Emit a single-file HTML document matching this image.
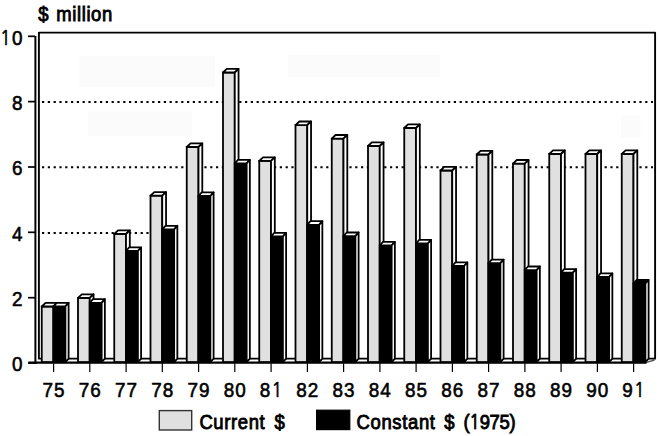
<!DOCTYPE html>
<html><head><meta charset="utf-8"><title>Chart</title>
<style>
html,body{margin:0;padding:0;background:#fff;}
body{width:659px;height:436px;overflow:hidden;}
svg{display:block;}
.t{font-family:"Liberation Sans",Arial,sans-serif;font-size:20px;fill:#000;stroke:#000;stroke-width:0.6px;}
.b{stroke-width:0.9px;}
.d{font-size:21px;letter-spacing:1.2px;}
.one{font-family:"NanumGothic","Liberation Sans",sans-serif;font-size:0.95em;}
</style></head><body>
<svg width="659" height="436" viewBox="0 0 659 436">
<rect width="659" height="436" fill="#fff"/>
<rect x="79.4" y="55.8" width="135.6" height="31.5" fill="#fbfbfb"/>
<rect x="88" y="111.6" width="104.0" height="24.3" fill="#fbfbfb"/>
<rect x="287.7" y="55" width="152.3" height="22.3" fill="#fbfbfb"/>
<rect x="621" y="115.5" width="19.5" height="22.2" fill="#fbfbfb"/>
<path d="M38.9,358.7 L38.9,32.6 L655.1,32.6 L655.1,358.7" fill="none" stroke="#000" stroke-width="1.9" stroke-linejoin="round"/>
<line x1="646.5" y1="362.4" x2="654.5" y2="360" stroke="#555" stroke-width="1.4"/>
<line x1="38.9" y1="358.7" x2="655.1" y2="358.7" stroke="#000" stroke-width="1.8" stroke-linecap="round"/>
<line x1="42" y1="102.0" x2="653" y2="102.0" stroke="#000" stroke-width="2.1" stroke-dasharray="2.2 3.6"/>
<line x1="42" y1="167.3" x2="653" y2="167.3" stroke="#000" stroke-width="2.1" stroke-dasharray="2.2 3.6"/>
<line x1="42" y1="233.0" x2="150" y2="233.0" stroke="#000" stroke-width="2.1" stroke-dasharray="2.2 3.6"/>
<rect x="250" y="164" width="9" height="7" fill="#fff"/>
<rect x="41.75" y="306.50" width="11.75" height="55.70" fill="#e0e0e0" stroke="#000" stroke-width="1.8"/>
<path d="M41.75,306.50 L45.55,302.90 L57.30,302.90 L53.50,306.50 Z" fill="#fff" stroke="#000" stroke-width="1.8" stroke-linejoin="round"/>
<path d="M53.50,306.50 L57.30,302.90 L57.30,358.70 L53.50,362.20 Z" fill="#fff" stroke="#000" stroke-width="1.8" stroke-linejoin="round"/>
<rect x="53.50" y="306.40" width="11.90" height="55.80" fill="#000" stroke="#000" stroke-width="1.8"/>
<path d="M53.50,306.40 L56.70,302.80 L68.60,302.80 L65.40,306.40 Z" fill="#fff" stroke="#000" stroke-width="1.8" stroke-linejoin="round"/>
<path d="M65.40,306.40 L68.60,302.80 L68.60,358.70 L65.40,362.20 Z" fill="#fff" stroke="#000" stroke-width="1.8" stroke-linejoin="round"/>
<rect x="78.00" y="297.90" width="11.75" height="64.30" fill="#e0e0e0" stroke="#000" stroke-width="1.8"/>
<path d="M78.00,297.90 L81.80,294.30 L93.55,294.30 L89.75,297.90 Z" fill="#fff" stroke="#000" stroke-width="1.8" stroke-linejoin="round"/>
<path d="M89.75,297.90 L93.55,294.30 L93.55,358.70 L89.75,362.20 Z" fill="#fff" stroke="#000" stroke-width="1.8" stroke-linejoin="round"/>
<rect x="89.75" y="302.80" width="11.90" height="59.40" fill="#000" stroke="#000" stroke-width="1.8"/>
<path d="M89.75,302.80 L92.95,299.20 L104.85,299.20 L101.65,302.80 Z" fill="#fff" stroke="#000" stroke-width="1.8" stroke-linejoin="round"/>
<path d="M101.65,302.80 L104.85,299.20 L104.85,358.70 L101.65,362.20 Z" fill="#fff" stroke="#000" stroke-width="1.8" stroke-linejoin="round"/>
<rect x="114.25" y="234.00" width="11.75" height="128.20" fill="#e0e0e0" stroke="#000" stroke-width="1.8"/>
<path d="M114.25,234.00 L118.05,230.40 L129.80,230.40 L126.00,234.00 Z" fill="#fff" stroke="#000" stroke-width="1.8" stroke-linejoin="round"/>
<path d="M126.00,234.00 L129.80,230.40 L129.80,358.70 L126.00,362.20 Z" fill="#fff" stroke="#000" stroke-width="1.8" stroke-linejoin="round"/>
<rect x="126.00" y="251.00" width="11.90" height="111.20" fill="#000" stroke="#000" stroke-width="1.8"/>
<path d="M126.00,251.00 L129.20,247.40 L141.10,247.40 L137.90,251.00 Z" fill="#fff" stroke="#000" stroke-width="1.8" stroke-linejoin="round"/>
<path d="M137.90,251.00 L141.10,247.40 L141.10,358.70 L137.90,362.20 Z" fill="#fff" stroke="#000" stroke-width="1.8" stroke-linejoin="round"/>
<rect x="150.50" y="195.70" width="11.75" height="166.50" fill="#e0e0e0" stroke="#000" stroke-width="1.8"/>
<path d="M150.50,195.70 L154.30,192.10 L166.05,192.10 L162.25,195.70 Z" fill="#fff" stroke="#000" stroke-width="1.8" stroke-linejoin="round"/>
<path d="M162.25,195.70 L166.05,192.10 L166.05,358.70 L162.25,362.20 Z" fill="#fff" stroke="#000" stroke-width="1.8" stroke-linejoin="round"/>
<rect x="162.25" y="229.40" width="11.90" height="132.80" fill="#000" stroke="#000" stroke-width="1.8"/>
<path d="M162.25,229.40 L165.45,225.80 L177.35,225.80 L174.15,229.40 Z" fill="#fff" stroke="#000" stroke-width="1.8" stroke-linejoin="round"/>
<path d="M174.15,229.40 L177.35,225.80 L177.35,358.70 L174.15,362.20 Z" fill="#fff" stroke="#000" stroke-width="1.8" stroke-linejoin="round"/>
<rect x="186.75" y="147.00" width="11.75" height="215.20" fill="#e0e0e0" stroke="#000" stroke-width="1.8"/>
<path d="M186.75,147.00 L190.55,143.40 L202.30,143.40 L198.50,147.00 Z" fill="#fff" stroke="#000" stroke-width="1.8" stroke-linejoin="round"/>
<path d="M198.50,147.00 L202.30,143.40 L202.30,358.70 L198.50,362.20 Z" fill="#fff" stroke="#000" stroke-width="1.8" stroke-linejoin="round"/>
<rect x="198.50" y="196.00" width="11.90" height="166.20" fill="#000" stroke="#000" stroke-width="1.8"/>
<path d="M198.50,196.00 L201.70,192.40 L213.60,192.40 L210.40,196.00 Z" fill="#fff" stroke="#000" stroke-width="1.8" stroke-linejoin="round"/>
<path d="M210.40,196.00 L213.60,192.40 L213.60,358.70 L210.40,362.20 Z" fill="#fff" stroke="#000" stroke-width="1.8" stroke-linejoin="round"/>
<rect x="223.00" y="72.50" width="11.75" height="289.70" fill="#e0e0e0" stroke="#000" stroke-width="1.8"/>
<path d="M223.00,72.50 L226.80,68.90 L238.55,68.90 L234.75,72.50 Z" fill="#fff" stroke="#000" stroke-width="1.8" stroke-linejoin="round"/>
<path d="M234.75,72.50 L238.55,68.90 L238.55,358.70 L234.75,362.20 Z" fill="#fff" stroke="#000" stroke-width="1.8" stroke-linejoin="round"/>
<rect x="234.75" y="163.40" width="11.90" height="198.80" fill="#000" stroke="#000" stroke-width="1.8"/>
<path d="M234.75,163.40 L237.95,159.80 L249.85,159.80 L246.65,163.40 Z" fill="#fff" stroke="#000" stroke-width="1.8" stroke-linejoin="round"/>
<path d="M246.65,163.40 L249.85,159.80 L249.85,358.70 L246.65,362.20 Z" fill="#fff" stroke="#000" stroke-width="1.8" stroke-linejoin="round"/>
<rect x="259.25" y="160.90" width="11.75" height="201.30" fill="#e0e0e0" stroke="#000" stroke-width="1.8"/>
<path d="M259.25,160.90 L263.05,157.30 L274.80,157.30 L271.00,160.90 Z" fill="#fff" stroke="#000" stroke-width="1.8" stroke-linejoin="round"/>
<path d="M271.00,160.90 L274.80,157.30 L274.80,358.70 L271.00,362.20 Z" fill="#fff" stroke="#000" stroke-width="1.8" stroke-linejoin="round"/>
<rect x="271.00" y="236.50" width="11.90" height="125.70" fill="#000" stroke="#000" stroke-width="1.8"/>
<path d="M271.00,236.50 L274.20,232.90 L286.10,232.90 L282.90,236.50 Z" fill="#fff" stroke="#000" stroke-width="1.8" stroke-linejoin="round"/>
<path d="M282.90,236.50 L286.10,232.90 L286.10,358.70 L282.90,362.20 Z" fill="#fff" stroke="#000" stroke-width="1.8" stroke-linejoin="round"/>
<rect x="295.50" y="125.10" width="11.75" height="237.10" fill="#e0e0e0" stroke="#000" stroke-width="1.8"/>
<path d="M295.50,125.10 L299.30,121.50 L311.05,121.50 L307.25,125.10 Z" fill="#fff" stroke="#000" stroke-width="1.8" stroke-linejoin="round"/>
<path d="M307.25,125.10 L311.05,121.50 L311.05,358.70 L307.25,362.20 Z" fill="#fff" stroke="#000" stroke-width="1.8" stroke-linejoin="round"/>
<rect x="307.25" y="224.80" width="11.90" height="137.40" fill="#000" stroke="#000" stroke-width="1.8"/>
<path d="M307.25,224.80 L310.45,221.20 L322.35,221.20 L319.15,224.80 Z" fill="#fff" stroke="#000" stroke-width="1.8" stroke-linejoin="round"/>
<path d="M319.15,224.80 L322.35,221.20 L322.35,358.70 L319.15,362.20 Z" fill="#fff" stroke="#000" stroke-width="1.8" stroke-linejoin="round"/>
<rect x="331.75" y="138.60" width="11.75" height="223.60" fill="#e0e0e0" stroke="#000" stroke-width="1.8"/>
<path d="M331.75,138.60 L335.55,135.00 L347.30,135.00 L343.50,138.60 Z" fill="#fff" stroke="#000" stroke-width="1.8" stroke-linejoin="round"/>
<path d="M343.50,138.60 L347.30,135.00 L347.30,358.70 L343.50,362.20 Z" fill="#fff" stroke="#000" stroke-width="1.8" stroke-linejoin="round"/>
<rect x="343.50" y="236.10" width="11.90" height="126.10" fill="#000" stroke="#000" stroke-width="1.8"/>
<path d="M343.50,236.10 L346.70,232.50 L358.60,232.50 L355.40,236.10 Z" fill="#fff" stroke="#000" stroke-width="1.8" stroke-linejoin="round"/>
<path d="M355.40,236.10 L358.60,232.50 L358.60,358.70 L355.40,362.20 Z" fill="#fff" stroke="#000" stroke-width="1.8" stroke-linejoin="round"/>
<rect x="368.00" y="146.00" width="11.75" height="216.20" fill="#e0e0e0" stroke="#000" stroke-width="1.8"/>
<path d="M368.00,146.00 L371.80,142.40 L383.55,142.40 L379.75,146.00 Z" fill="#fff" stroke="#000" stroke-width="1.8" stroke-linejoin="round"/>
<path d="M379.75,146.00 L383.55,142.40 L383.55,358.70 L379.75,362.20 Z" fill="#fff" stroke="#000" stroke-width="1.8" stroke-linejoin="round"/>
<rect x="379.75" y="245.50" width="11.90" height="116.70" fill="#000" stroke="#000" stroke-width="1.8"/>
<path d="M379.75,245.50 L382.95,241.90 L394.85,241.90 L391.65,245.50 Z" fill="#fff" stroke="#000" stroke-width="1.8" stroke-linejoin="round"/>
<path d="M391.65,245.50 L394.85,241.90 L394.85,358.70 L391.65,362.20 Z" fill="#fff" stroke="#000" stroke-width="1.8" stroke-linejoin="round"/>
<rect x="404.25" y="128.00" width="11.75" height="234.20" fill="#e0e0e0" stroke="#000" stroke-width="1.8"/>
<path d="M404.25,128.00 L408.05,124.40 L419.80,124.40 L416.00,128.00 Z" fill="#fff" stroke="#000" stroke-width="1.8" stroke-linejoin="round"/>
<path d="M416.00,128.00 L419.80,124.40 L419.80,358.70 L416.00,362.20 Z" fill="#fff" stroke="#000" stroke-width="1.8" stroke-linejoin="round"/>
<rect x="416.00" y="243.50" width="11.90" height="118.70" fill="#000" stroke="#000" stroke-width="1.8"/>
<path d="M416.00,243.50 L419.20,239.90 L431.10,239.90 L427.90,243.50 Z" fill="#fff" stroke="#000" stroke-width="1.8" stroke-linejoin="round"/>
<path d="M427.90,243.50 L431.10,239.90 L431.10,358.70 L427.90,362.20 Z" fill="#fff" stroke="#000" stroke-width="1.8" stroke-linejoin="round"/>
<rect x="440.50" y="170.50" width="11.75" height="191.70" fill="#e0e0e0" stroke="#000" stroke-width="1.8"/>
<path d="M440.50,170.50 L444.30,166.90 L456.05,166.90 L452.25,170.50 Z" fill="#fff" stroke="#000" stroke-width="1.8" stroke-linejoin="round"/>
<path d="M452.25,170.50 L456.05,166.90 L456.05,358.70 L452.25,362.20 Z" fill="#fff" stroke="#000" stroke-width="1.8" stroke-linejoin="round"/>
<rect x="452.25" y="266.00" width="11.90" height="96.20" fill="#000" stroke="#000" stroke-width="1.8"/>
<path d="M452.25,266.00 L455.45,262.40 L467.35,262.40 L464.15,266.00 Z" fill="#fff" stroke="#000" stroke-width="1.8" stroke-linejoin="round"/>
<path d="M464.15,266.00 L467.35,262.40 L467.35,358.70 L464.15,362.20 Z" fill="#fff" stroke="#000" stroke-width="1.8" stroke-linejoin="round"/>
<rect x="476.75" y="154.50" width="11.75" height="207.70" fill="#e0e0e0" stroke="#000" stroke-width="1.8"/>
<path d="M476.75,154.50 L480.55,150.90 L492.30,150.90 L488.50,154.50 Z" fill="#fff" stroke="#000" stroke-width="1.8" stroke-linejoin="round"/>
<path d="M488.50,154.50 L492.30,150.90 L492.30,358.70 L488.50,362.20 Z" fill="#fff" stroke="#000" stroke-width="1.8" stroke-linejoin="round"/>
<rect x="488.50" y="263.20" width="11.90" height="99.00" fill="#000" stroke="#000" stroke-width="1.8"/>
<path d="M488.50,263.20 L491.70,259.60 L503.60,259.60 L500.40,263.20 Z" fill="#fff" stroke="#000" stroke-width="1.8" stroke-linejoin="round"/>
<path d="M500.40,263.20 L503.60,259.60 L503.60,358.70 L500.40,362.20 Z" fill="#fff" stroke="#000" stroke-width="1.8" stroke-linejoin="round"/>
<rect x="513.00" y="163.60" width="11.75" height="198.60" fill="#e0e0e0" stroke="#000" stroke-width="1.8"/>
<path d="M513.00,163.60 L516.80,160.00 L528.55,160.00 L524.75,163.60 Z" fill="#fff" stroke="#000" stroke-width="1.8" stroke-linejoin="round"/>
<path d="M524.75,163.60 L528.55,160.00 L528.55,358.70 L524.75,362.20 Z" fill="#fff" stroke="#000" stroke-width="1.8" stroke-linejoin="round"/>
<rect x="524.75" y="270.10" width="11.90" height="92.10" fill="#000" stroke="#000" stroke-width="1.8"/>
<path d="M524.75,270.10 L527.95,266.50 L539.85,266.50 L536.65,270.10 Z" fill="#fff" stroke="#000" stroke-width="1.8" stroke-linejoin="round"/>
<path d="M536.65,270.10 L539.85,266.50 L539.85,358.70 L536.65,362.20 Z" fill="#fff" stroke="#000" stroke-width="1.8" stroke-linejoin="round"/>
<rect x="549.25" y="154.00" width="11.75" height="208.20" fill="#e0e0e0" stroke="#000" stroke-width="1.8"/>
<path d="M549.25,154.00 L553.05,150.40 L564.80,150.40 L561.00,154.00 Z" fill="#fff" stroke="#000" stroke-width="1.8" stroke-linejoin="round"/>
<path d="M561.00,154.00 L564.80,150.40 L564.80,358.70 L561.00,362.20 Z" fill="#fff" stroke="#000" stroke-width="1.8" stroke-linejoin="round"/>
<rect x="561.00" y="272.70" width="11.90" height="89.50" fill="#000" stroke="#000" stroke-width="1.8"/>
<path d="M561.00,272.70 L564.20,269.10 L576.10,269.10 L572.90,272.70 Z" fill="#fff" stroke="#000" stroke-width="1.8" stroke-linejoin="round"/>
<path d="M572.90,272.70 L576.10,269.10 L576.10,358.70 L572.90,362.20 Z" fill="#fff" stroke="#000" stroke-width="1.8" stroke-linejoin="round"/>
<rect x="585.50" y="154.00" width="11.75" height="208.20" fill="#e0e0e0" stroke="#000" stroke-width="1.8"/>
<path d="M585.50,154.00 L589.30,150.40 L601.05,150.40 L597.25,154.00 Z" fill="#fff" stroke="#000" stroke-width="1.8" stroke-linejoin="round"/>
<path d="M597.25,154.00 L601.05,150.40 L601.05,358.70 L597.25,362.20 Z" fill="#fff" stroke="#000" stroke-width="1.8" stroke-linejoin="round"/>
<rect x="597.25" y="277.00" width="11.90" height="85.20" fill="#000" stroke="#000" stroke-width="1.8"/>
<path d="M597.25,277.00 L600.45,273.40 L612.35,273.40 L609.15,277.00 Z" fill="#fff" stroke="#000" stroke-width="1.8" stroke-linejoin="round"/>
<path d="M609.15,277.00 L612.35,273.40 L612.35,358.70 L609.15,362.20 Z" fill="#fff" stroke="#000" stroke-width="1.8" stroke-linejoin="round"/>
<rect x="621.75" y="154.00" width="11.75" height="208.20" fill="#e0e0e0" stroke="#000" stroke-width="1.8"/>
<path d="M621.75,154.00 L625.55,150.40 L637.30,150.40 L633.50,154.00 Z" fill="#fff" stroke="#000" stroke-width="1.8" stroke-linejoin="round"/>
<path d="M633.50,154.00 L637.30,150.40 L637.30,358.70 L633.50,362.20 Z" fill="#fff" stroke="#000" stroke-width="1.8" stroke-linejoin="round"/>
<rect x="633.50" y="283.50" width="11.90" height="78.70" fill="#000" stroke="#000" stroke-width="1.8"/>
<path d="M633.50,283.50 L636.70,279.90 L648.60,279.90 L645.40,283.50 Z" fill="#000" stroke="#000" stroke-width="1.8" stroke-linejoin="round"/>
<path d="M645.40,283.50 L648.60,279.90 L648.60,358.70 L645.40,362.20 Z" fill="#fff" stroke="#000" stroke-width="1.8" stroke-linejoin="round"/>
<line x1="35.4" y1="36" x2="35.4" y2="364.0" stroke="#000" stroke-width="2"/>
<line x1="28.4" y1="362.7" x2="646.5" y2="362.7" stroke="#000" stroke-width="2.2"/>
<line x1="28" y1="363.0" x2="35" y2="363.0" stroke="#000" stroke-width="1.7"/>
<text transform="translate(23.5,371.4) scale(0.9,1)" text-anchor="end" class="t d">0</text>
<line x1="28" y1="297.7" x2="35" y2="297.7" stroke="#000" stroke-width="1.7"/>
<text transform="translate(23.5,306.1) scale(0.9,1)" text-anchor="end" class="t d">2</text>
<line x1="28" y1="232.3" x2="35" y2="232.3" stroke="#000" stroke-width="1.7"/>
<text transform="translate(23.5,240.7) scale(0.9,1)" text-anchor="end" class="t d">4</text>
<line x1="28" y1="167.0" x2="35" y2="167.0" stroke="#000" stroke-width="1.7"/>
<text transform="translate(23.5,175.4) scale(0.9,1)" text-anchor="end" class="t d">6</text>
<line x1="28" y1="101.6" x2="35" y2="101.6" stroke="#000" stroke-width="1.7"/>
<text transform="translate(23.5,110.0) scale(0.9,1)" text-anchor="end" class="t d">8</text>
<line x1="28" y1="36.3" x2="35" y2="36.3" stroke="#000" stroke-width="1.7"/>
<text transform="translate(23.5,44.7) scale(0.9,1)" text-anchor="end" class="t d"><tspan class="one">1</tspan>0</text>
<line x1="53.6" y1="363.2" x2="53.6" y2="372" stroke="#000" stroke-width="1.2"/>
<text transform="translate(54.10,397.4) scale(0.9,1)" text-anchor="middle" class="t d">75</text>
<line x1="89.8" y1="363.2" x2="89.8" y2="372" stroke="#000" stroke-width="1.2"/>
<text transform="translate(90.35,397.4) scale(0.9,1)" text-anchor="middle" class="t d">76</text>
<line x1="126.1" y1="363.2" x2="126.1" y2="372" stroke="#000" stroke-width="1.2"/>
<text transform="translate(126.60,397.4) scale(0.9,1)" text-anchor="middle" class="t d">77</text>
<line x1="162.3" y1="363.2" x2="162.3" y2="372" stroke="#000" stroke-width="1.2"/>
<text transform="translate(162.85,397.4) scale(0.9,1)" text-anchor="middle" class="t d">78</text>
<line x1="198.6" y1="363.2" x2="198.6" y2="372" stroke="#000" stroke-width="1.2"/>
<text transform="translate(199.10,397.4) scale(0.9,1)" text-anchor="middle" class="t d">79</text>
<line x1="234.8" y1="363.2" x2="234.8" y2="372" stroke="#000" stroke-width="1.2"/>
<text transform="translate(235.35,397.4) scale(0.9,1)" text-anchor="middle" class="t d">80</text>
<line x1="271.1" y1="363.2" x2="271.1" y2="372" stroke="#000" stroke-width="1.2"/>
<text transform="translate(271.60,397.4) scale(0.9,1)" text-anchor="middle" class="t d">8<tspan class="one">1</tspan></text>
<line x1="307.4" y1="363.2" x2="307.4" y2="372" stroke="#000" stroke-width="1.2"/>
<text transform="translate(307.85,397.4) scale(0.9,1)" text-anchor="middle" class="t d">82</text>
<line x1="343.6" y1="363.2" x2="343.6" y2="372" stroke="#000" stroke-width="1.2"/>
<text transform="translate(344.10,397.4) scale(0.9,1)" text-anchor="middle" class="t d">83</text>
<line x1="379.9" y1="363.2" x2="379.9" y2="372" stroke="#000" stroke-width="1.2"/>
<text transform="translate(380.35,397.4) scale(0.9,1)" text-anchor="middle" class="t d">84</text>
<line x1="416.1" y1="363.2" x2="416.1" y2="372" stroke="#000" stroke-width="1.2"/>
<text transform="translate(416.60,397.4) scale(0.9,1)" text-anchor="middle" class="t d">85</text>
<line x1="452.4" y1="363.2" x2="452.4" y2="372" stroke="#000" stroke-width="1.2"/>
<text transform="translate(452.85,397.4) scale(0.9,1)" text-anchor="middle" class="t d">86</text>
<line x1="488.6" y1="363.2" x2="488.6" y2="372" stroke="#000" stroke-width="1.2"/>
<text transform="translate(489.10,397.4) scale(0.9,1)" text-anchor="middle" class="t d">87</text>
<line x1="524.9" y1="363.2" x2="524.9" y2="372" stroke="#000" stroke-width="1.2"/>
<text transform="translate(525.35,397.4) scale(0.9,1)" text-anchor="middle" class="t d">88</text>
<line x1="561.1" y1="363.2" x2="561.1" y2="372" stroke="#000" stroke-width="1.2"/>
<text transform="translate(561.60,397.4) scale(0.9,1)" text-anchor="middle" class="t d">89</text>
<line x1="597.4" y1="363.2" x2="597.4" y2="372" stroke="#000" stroke-width="1.2"/>
<text transform="translate(597.85,397.4) scale(0.9,1)" text-anchor="middle" class="t d">90</text>
<line x1="633.6" y1="363.2" x2="633.6" y2="372" stroke="#000" stroke-width="1.2"/>
<text transform="translate(634.10,397.4) scale(0.9,1)" text-anchor="middle" class="t d">9<tspan class="one">1</tspan></text>
<text transform="translate(38.2,20.6) scale(0.9,1)" class="t b" style="letter-spacing:0px;font-size:20.5px">$</text>
<text transform="translate(56.2,20.6) scale(0.9,1)" class="t b" style="letter-spacing:0.7px;font-size:20.5px">million</text>
<rect x="159.3" y="410.6" width="32.4" height="19.4" fill="#e0e0e0" stroke="#333" stroke-width="1.4"/>
<text transform="translate(199.4,429.4) scale(0.9,1)" class="t b" style="letter-spacing:0.7px;font-size:20.5px">Current</text>
<text transform="translate(274.5,429.4) scale(0.9,1)" class="t b" style="letter-spacing:0px;font-size:20.5px">$</text>
<rect x="316.6" y="410.2" width="33.2" height="19.4" fill="#000" stroke="#000" stroke-width="1.2"/>
<text transform="translate(356.5,429.4) scale(0.9,1)" class="t b" style="letter-spacing:0.73px;font-size:20.5px">Constant</text>
<text transform="translate(444.3,429.4) scale(0.9,1)" class="t b" style="letter-spacing:0px;font-size:20.5px">$</text>
<text transform="translate(463.4,429.4) scale(0.9,1)" class="t b" style="letter-spacing:-0.3px;font-size:20.5px">(<tspan class="one">1</tspan>975)</text>
</svg>
</body></html>
